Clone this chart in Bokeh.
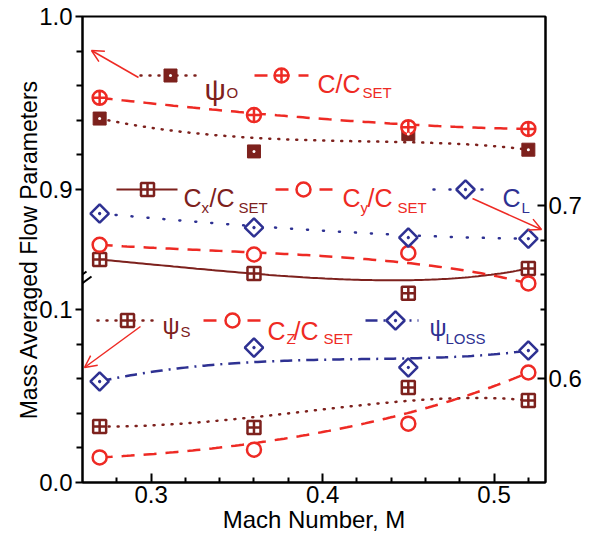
import numpy as np
from bokeh.plotting import figure
from bokeh.models import (Range1d, LinearAxis, FixedTicker, CustomJSTickFormatter,
                          Label, Arrow, OpenHead)
from bokeh.embed import file_html
from bokeh.resources import INLINE

# ---------------- data ----------------
mach = [0.27, 0.36, 0.45, 0.52]
# upper section of the broken left axis
psi_o = [0.941, 0.922, 0.932, 0.923]
c_cset = [0.953, 0.943, 0.936, 0.935]
cx_cset = [0.8595, 0.8514, 0.840, 0.8543]
cy_cset = [0.868, 0.8624, 0.8633, 0.8457]
# right axis
c_l = [0.6955, 0.6874, 0.6816, 0.681]
# lower section of the broken left axis
psi_s = [0.0324, 0.0318, 0.0549, 0.0474]
cz_cset = [0.0145, 0.019, 0.034, 0.0636]
psi_loss = [0.0584, 0.078, 0.0665, 0.0763]

x_major = [0.3, 0.4, 0.5]
x_minor = [0.28, 0.32, 0.34, 0.36, 0.38, 0.42, 0.44, 0.46, 0.48, 0.52]
y_low_major = [0.0, 0.1]
y_low_minor = [0.02, 0.04, 0.06, 0.08]
y_up_major = [0.9, 1.0]
y_up_minor = [0.92, 0.94, 0.96, 0.98]
r_major = [0.6, 0.7]
r_minor = [0.62, 0.64, 0.66, 0.68]

# ---------------- layout / style ----------------
W, H = 596, 538
FL, FR, FT, FB = 82, 545, 16, 482          # frame in pixels
X0, X1 = 0.26, 0.53
SHIFT = 0.7306                              # upper values drawn at v - SHIFT
Y_TOP = 1.0 - SHIFT
BREAK = 0.1168
R_OFF = 0.54                                # right values drawn at r - R_OFF

DRED = "#7d211d"
RED = "#ee2a24"
BLUE = "#2e3192"
FONT = "Liberation Sans"


def fx(px):
    return X0 + (px - FL) * (X1 - X0) / (FR - FL)


def fy(py):
    return (FB - py) * Y_TOP / (FB - FT)


def bezier(xs, ys, n=120):
    t = np.linspace(0, 1, n)[:, None]
    P = np.column_stack([xs, ys])
    B = ((1 - t) ** 3) * P[0] + 3 * ((1 - t) ** 2) * t * P[1] + 3 * (1 - t) * t ** 2 * P[2] + t ** 3 * P[3]
    return B[:, 0], B[:, 1]


p = figure(width=W, height=H, output_backend="svg", toolbar_location=None,
           x_range=Range1d(X0, X1), y_range=Range1d(0, Y_TOP),
           min_border_left=FL, min_border_right=W - FR, min_border_top=FT,
           min_border_bottom=H - FB)
p.extra_y_ranges = {"right": Range1d(R_OFF, Y_TOP + R_OFF)}
p.xgrid.visible = False
p.ygrid.visible = False
p.outline_line_color = "black"
p.outline_line_width = 2
p.background_fill_color = "white"
p.border_fill_color = "white"

# x axis
xa = p.xaxis[0]
xa.ticker = FixedTicker(ticks=x_major, minor_ticks=x_minor)
xa.axis_label = "Mach Number, M"
# y axis (broken)
ya = p.yaxis[0]
ya.ticker = FixedTicker(ticks=y_low_major + [v - SHIFT for v in y_up_major],
                        minor_ticks=y_low_minor + [v - SHIFT for v in y_up_minor])
ya.formatter = CustomJSTickFormatter(args=dict(shift=SHIFT, brk=BREAK),
                                     code="return (tick > brk ? tick + shift : tick).toFixed(1);")
ya.axis_label = "Mass Averaged Flow Parameters"
ra = LinearAxis(y_range_name="right", ticker=FixedTicker(ticks=r_major, minor_ticks=r_minor))
p.add_layout(ra, "right")

for ax in (xa, ya, ra):
    ax.axis_line_width = 2
    ax.major_tick_line_width = 2
    ax.minor_tick_line_width = 2
    ax.major_label_text_font = FONT
    ax.major_label_text_font_size = "24px"
    ax.major_label_text_color = "black"
    ax.axis_label_text_font = FONT
    ax.axis_label_text_font_size = "24px"
    ax.axis_label_text_font_style = "normal"
    ax.axis_label_text_color = "black"
    ax.major_label_standoff = 3
ya.axis_label_text_font_size = "23px"
xa.major_tick_in, xa.major_tick_out = 9, 0
xa.minor_tick_in, xa.minor_tick_out = 5, 0
xa.axis_label_standoff = 0
ya.major_tick_in, ya.major_tick_out = 0, 7
ya.minor_tick_in, ya.minor_tick_out = 0, 6
ya.axis_label_standoff = -6
ra.major_tick_in, ra.major_tick_out = 8, 0
ra.minor_tick_in, ra.minor_tick_out = 5, 0

# ---------------- series ----------------
up = lambda vals: [v - SHIFT for v in vals]

DIAMOND = dict(marker="square_dot", angle=np.pi / 4, size=13, fill_color="white",
               line_color=BLUE, line_width=2.5)
series = [
    # values, y_range_name, color, line kwargs, marker kwargs
    (up(psi_o), "default", DRED, dict(line_width=2.5, line_dash="1 8", line_cap="round"),
     dict(marker="square", size=13, fill_color=DRED, line_color=DRED)),
    (up(c_cset), "default", RED, dict(line_width=2.5, line_dash="13 9"),
     dict(marker="circle_cross", size=14, fill_color="white", line_color=RED, line_width=2.5)),
    (up(cx_cset), "default", DRED, dict(line_width=2),
     dict(marker="square_cross", size=13, fill_color="white", line_color=DRED, line_width=2.5)),
    (up(cy_cset), "default", RED, dict(line_width=2.5, line_dash="13 9"),
     dict(marker="circle", size=14, fill_color="white", line_color=RED, line_width=2.5)),
    (c_l, "right", BLUE, dict(line_width=2.5, line_dash="1 15", line_cap="round"), DIAMOND),
    (psi_s, "default", DRED, dict(line_width=2.5, line_dash="1 8", line_cap="round"),
     dict(marker="square_cross", size=13, fill_color="white", line_color=DRED, line_width=2.5)),
    (cz_cset, "default", RED, dict(line_width=2.5, line_dash="13 9"),
     dict(marker="circle", size=14, fill_color="white", line_color=RED, line_width=2.5)),
    (psi_loss, "default", BLUE, dict(line_width=2.5, line_dash="12 6 2 6"), DIAMOND),
]

for vals, rng, col, lkw, mkw in series:
    bx, by = bezier(mach, vals)
    p.line(bx, by, line_color=col, y_range_name=rng, **lkw)
for vals, rng, col, lkw, mkw in series:
    p.scatter(mach, vals, y_range_name=rng, **mkw)
# white speckle on the psi_O squares
p.scatter(mach, up(psi_o), marker="circle", size=3, fill_color="white", line_color=None)

# ---------------- in-plot legend ----------------
def sample(x_a, x_b, x_m, py, col, lkw, mkw, speck=False):
    yy = fy(py)
    p.line([fx(x_a), fx(x_b)], [yy, yy], line_color=col, **lkw)
    p.scatter([fx(x_m)], [yy], **mkw)
    if speck:
        p.scatter([fx(x_m)], [yy], marker="circle", size=3, fill_color="white", line_color=None)


def txt(px, py, s, col, size):
    p.add_layout(Label(x=fx(px), y=fy(py), text=s, text_font=FONT, text_font_size=size,
                       text_color=col, text_align="left", text_baseline="alphabetic"))


S = {i: series[i] for i in range(len(series))}
# row 1
sample(140, 195, 170, 75, DRED, S[0][3], S[0][4], speck=True)
txt(204, 89, "ψ", DRED, "30px"); txt(226, 92, "O", DRED, "15px")
sample(254, 308, 281, 75, RED, S[1][3], S[1][4])
txt(317, 83, "C/C", RED, "25px"); txt(362, 92, "SET", RED, "15px")
# row 2
sample(116, 177, 147, 189, DRED, S[2][3], S[2][4])
txt(183, 197, "C", DRED, "25px"); txt(201, 207, "x", DRED, "15px")
txt(209, 197, "/C", DRED, "25px"); txt(238, 207, "SET", DRED, "15px")
sample(275, 338, 303, 189, RED, S[3][3], S[3][4])
txt(342, 197, "C", RED, "25px"); txt(360, 207, "y", RED, "15px")
txt(367, 197, "/C", RED, "25px"); txt(397, 207, "SET", RED, "15px")
sample(433, 490, 465, 189, BLUE, S[4][3], S[4][4])
txt(502, 197, "C", BLUE, "25px"); txt(521, 207, "L", BLUE, "15px")
# row 3
sample(97, 152, 127, 320, DRED, S[5][3], S[5][4])
txt(162, 325, "ψ", DRED, "24px"); txt(180, 331, "S", DRED, "15px")
sample(203, 262, 232, 320, RED, S[6][3], S[6][4])
txt(267, 330, "C", RED, "25px"); txt(286, 338, "Z", RED, "15px")
txt(293, 330, "/C", RED, "25px"); txt(323, 338, "SET", RED, "15px")
sample(365, 418, 395, 320, BLUE, S[7][3], S[7][4])
txt(429, 327, "ψ", BLUE, "24px"); txt(445, 338, "LOSS", BLUE, "15px")

# ---------------- arrows ----------------
for (xa_, ya_, xb_, yb_) in [(138, 77, 91, 50), (472, 198, 541, 229), (140, 326, 84, 367)]:
    p.add_layout(Arrow(end=OpenHead(size=12, line_color=RED, line_width=1.5),
                       x_start=fx(xa_), y_start=fy(ya_), x_end=fx(xb_), y_end=fy(yb_),
                       line_color=RED, line_width=1.5))

# ---------------- axis break mark ----------------
for (xa_, ya_, xb_, yb_) in [(71, 282, 86, 271), (76, 287, 91, 276)]:
    p.add_layout(Arrow(end=None, x_start=fx(xa_), y_start=fy(ya_), x_end=fx(xb_), y_end=fy(yb_),
                       line_color="black", line_width=2))

open("out.html", "w").write(file_html(p, INLINE))
